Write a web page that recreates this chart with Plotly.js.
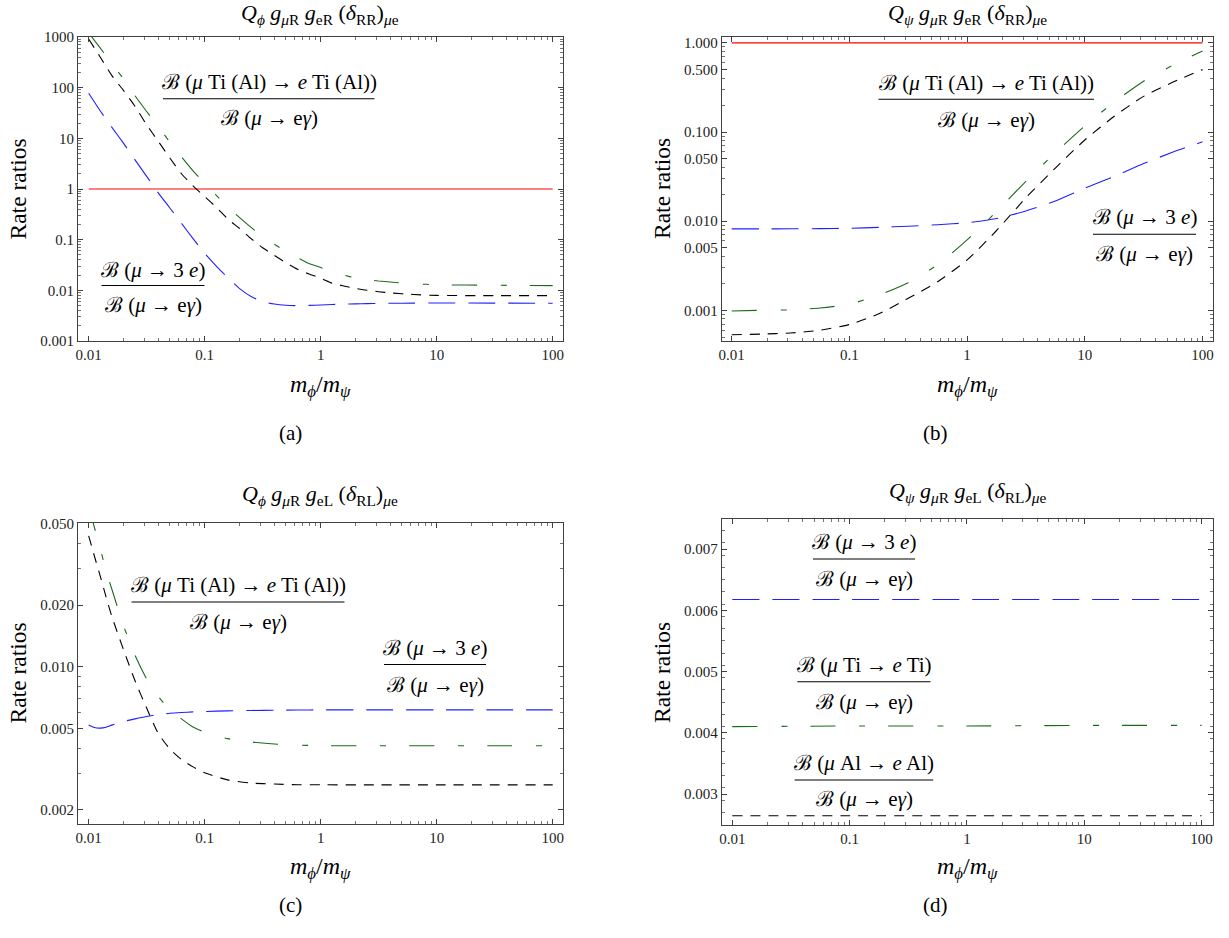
<!DOCTYPE html>
<html><head><meta charset="utf-8">
<script src="https://cdn.plot.ly/plotly-3.0.1.min.js"></script>
<style>html,body{margin:0;padding:0;background:#fff;} #chart{width:1229px;height:938px;}</style>
</head><body><div id="chart"></div>
<script>
// ---------- data ----------
// panel (a): Q_phi g_muR g_eR (delta_RR)
const xA = [0.01,0.0126,0.0158,0.02,0.0251,0.0316,0.0398,0.0501,0.0631,0.0794,0.1,0.126,0.158,0.2,0.251,0.316,0.398,0.501,0.631,0.794,1,1.26,1.58,2,2.51,3.16,3.98,6.31,10,31.6,100];
const mu3eA = [77.6,34.7,16.6,7.94,3.76,1.78,0.841,0.422,0.21,0.105,0.0537,0.0302,0.0178,0.01084,0.00759,0.0060,0.00537,0.00507,0.00499,0.00504,0.00513,0.00525,0.00535,0.00541,0.00546,0.00551,0.00555,0.0056,0.00562,0.0056,0.00556];
const muAlA = [912,398,175,87.5,42.8,18.5,8.75,4.1,2.0,1.15,0.708,0.437,0.257,0.166,0.105,0.0692,0.049,0.0351,0.026,0.021,0.0174,0.0138,0.0122,0.0109,0.0100,0.0094,0.0089,0.00828,0.00794,0.00785,0.00785];
const muTiA = [1202,603,299,148,69.2,33.9,17.0,8.47,4.33,2.29,1.30,0.75,0.442,0.272,0.175,0.115,0.0813,0.0589,0.0444,0.0339,0.0281,0.023,0.02,0.0175,0.0163,0.0153,0.0146,0.0135,0.0129,0.0126,0.0124];
// panel (b): Q_psi g_muR g_eR (delta_RR)
const xB = [0.01,0.0178,0.0316,0.0562,0.1,0.178,0.316,0.562,1,1.78,3.16,5.62,10,17.8,31.6,56.2,100];
const mu3eB = [0.00818,0.00818,0.0082,0.00824,0.00832,0.00851,0.00877,0.00912,0.0096,0.0107,0.013,0.0168,0.0234,0.0318,0.0442,0.0596,0.0776];
const muAlB = [0.000531,0.00054,0.000556,0.000596,0.000692,0.000912,0.00136,0.00209,0.00367,0.00785,0.0183,0.0394,0.0813,0.15,0.251,0.363,0.501];
const muTiB = [0.00098,0.001,0.00101,0.00106,0.00117,0.00148,0.00204,0.00324,0.00617,0.0128,0.028,0.0586,0.117,0.217,0.372,0.562,0.813];
// panel (c): Q_phi g_muR g_eL (delta_RL)
const xC = [0.01,0.0112,0.0126,0.0141,0.0158,0.02,0.0251,0.0316,0.0398,0.0501,0.0631,0.0794,0.1,0.158,0.251,0.398,0.631,1,3.16,10,31.6,100];
const mu3eC = [0.00519,0.00504,0.00501,0.00506,0.00518,0.0054,0.00556,0.00571,0.00583,0.00592,0.00597,0.00601,0.00604,0.00608,0.00611,0.00612,0.00614,0.00615,0.00615,0.00615,0.00615,0.00615];
const muAlC = [0.0435,0.0347,0.0276,0.022,0.01766,0.01208,0.00853,0.00628,0.00472,0.00396,0.00352,0.00324,0.00303,0.0028,0.0027,0.00267,0.00265,0.002648,0.002646,0.002646,0.002646,0.002646];
const muTiC = [0.0603,0.0479,0.0376,0.0295,0.024,0.0158,0.01135,0.00871,0.00716,0.00617,0.00556,0.00507,0.00479,0.00445,0.00429,0.00419,0.00414,0.00411,0.00411,0.00411,0.00411,0.00411];
// panel (d): Q_psi g_muR g_eL (delta_RL)
const xD = [0.01,0.1,1,10,100];
const mu3eD = [0.006175,0.006175,0.006175,0.006175,0.006175];
const muTiD = [0.0041,0.00411,0.00411,0.00412,0.00412];
const muAlD = [0.002646,0.002646,0.002646,0.002646,0.002646];
// reference line (ratio = 1)
const xRef = [0.01,100];
const yRef = [1,1];

// tick labels
const xTickVals = [0.01,0.1,1,10,100];
const xTickText = ['0.01','0.1','1','10','100'];
const yTickValsA = [0.001,0.01,0.1,1,10,100,1000];
const yTickTextA = ['0.001','0.01','0.1','1','10','100','1000'];
const yTickValsB = [0.001,0.005,0.01,0.05,0.1,0.5,1];
const yTickTextB = ['0.001','0.005','0.010','0.050','0.100','0.500','1.000'];
const yTickValsC = [0.002,0.005,0.01,0.02,0.05];
const yTickTextC = ['0.002','0.005','0.010','0.020','0.050'];
const yTickValsD = [0.003,0.004,0.005,0.006,0.007];
const yTickTextD = ['0.003','0.004','0.005','0.006','0.007'];

// ---------- styling ----------
const W = 1229, H = 938;
const SERIF = 'Liberation Serif';
const COL_BLUE = '#2020ff', COL_GREEN = '#1c6a1c', COL_BLACK = '#000000', COL_RED = '#ff0000';
const DASH_BLUE = '27px,13px';
const DASH_BLACK = '10px,8px';
const DASH_GREEN = '25px,24px,6px,23px';

function logMinor(lo, hi) {
  const out = [];
  for (let e = lo; e <= hi; e++) {
    for (let m = 2; m <= 9; m++) out.push(Number((m * Math.pow(10, e)).toPrecision(3)));
  }
  return out;
}
function skipMajors(vals, majors) {
  return vals.filter(v => !majors.some(m => Math.abs(v - m) / m < 1e-6));
}
const xMinor = logMinor(-2, 1);
const linMinorD = [];
for (let v = 25; v <= 74; v += 2) linMinorD.push(v / 10000);

function axis(domain, range, type, tickvals, ticktext, minorvals, anchor) {
  return {
    domain, range, type, anchor,
    showline: true, linecolor: '#404040', linewidth: 1, mirror: 'ticks',
    ticks: 'inside', ticklen: 5, tickwidth: 1, tickcolor: '#404040',
    showgrid: false, zeroline: false,
    tickmode: 'array', tickvals, ticktext,
    tickfont: {family: SERIF, size: 15, color: '#222'},
    minor: {ticks: 'inside', ticklen: 3, tickwidth: 0.8, tickcolor: '#505050',
            tickmode: 'array', tickvals: minorvals, showgrid: false},
    fixedrange: true
  };
}

function line(x, y, color, dash, xa, ya, w) {
  return {x, y, type: 'scatter', mode: 'lines', xaxis: xa, yaxis: ya,
          line: {color, width: w || 1.1, dash, shape: 'spline', smoothing: 0.6},
          hoverinfo: 'skip', showlegend: false};
}

const data = [
  line(xRef, yRef, COL_RED, 'solid', 'x', 'y', 1.2),
  line(xA, mu3eA, COL_BLUE, DASH_BLUE, 'x', 'y'),
  line(xA, muTiA, COL_GREEN, DASH_GREEN, 'x', 'y'),
  line(xA, muAlA, COL_BLACK, DASH_BLACK, 'x', 'y'),

  line(xRef, yRef, COL_RED, 'solid', 'x2', 'y2', 1.2),
  line(xB, mu3eB, COL_BLUE, DASH_BLUE, 'x2', 'y2'),
  line(xB, muTiB, COL_GREEN, DASH_GREEN, 'x2', 'y2'),
  line(xB, muAlB, COL_BLACK, DASH_BLACK, 'x2', 'y2'),

  line(xC, mu3eC, COL_BLUE, DASH_BLUE, 'x3', 'y3'),
  line(xC, muTiC, COL_GREEN, DASH_GREEN, 'x3', 'y3'),
  line(xC, muAlC, COL_BLACK, DASH_BLACK, 'x3', 'y3'),

  line(xD, mu3eD, COL_BLUE, DASH_BLUE, 'x4', 'y4'),
  line(xD, muTiD, COL_GREEN, DASH_GREEN, 'x4', 'y4'),
  line(xD, muAlD, COL_BLACK, DASH_BLACK, 'x4', 'y4')
];

// frames in pixel space
const fx = (px) => px / W;
const fy = (py) => 1 - py / H;
const domXL = [fx(78), fx(563)], domXR = [fx(721.7), fx(1212.5)];
const domYT = [fy(341), fy(37)];
const domYC = [fy(824.3), fy(522.7)], domYD = [fy(825), fy(519)];

const layout = {
  width: W, height: H, margin: {l: 0, r: 0, t: 0, b: 0},
  paper_bgcolor: '#fff', plot_bgcolor: '#fff', showlegend: false,
  font: {family: SERIF, color: '#000'},
  xaxis:  axis(domXL, [-2.092, 2.089], 'log', xTickVals, xTickText, xMinor, 'y'),
  yaxis:  axis(domYT, [-3, 3], 'log', yTickValsA, yTickTextA, logMinor(-3, 2), 'x'),
  xaxis2: axis(domXR, [-2.085, 2.085], 'log', xTickVals, xTickText, xMinor, 'y2'),
  yaxis2: axis(domYT, [-3.345, 0.066], 'log', yTickValsB, yTickTextB, skipMajors(logMinor(-4, 0), yTickValsB).filter(v => v >= 0.00045 && v <= 1.2), 'x2'),
  xaxis3: axis(domXL, [-2.092, 2.089], 'log', xTickVals, xTickText, xMinor, 'y3'),
  yaxis3: axis(domYC, [-2.770, -1.297], 'log', yTickValsC, yTickTextC, skipMajors(logMinor(-3, -2), yTickValsC).filter(v => v >= 0.0017 && v <= 0.05), 'x3'),
  xaxis4: axis(domXR, [-2.09, 2.093], 'log', xTickVals, xTickText, xMinor, 'y4'),
  yaxis4: axis(domYD, [0.002494, 0.00749], 'linear', yTickValsD, yTickTextD, skipMajors(linMinorD, yTickValsD), 'x4'),
  annotations: [], shapes: []
};

function txt(text, x, y, size, extra) {
  return Object.assign({text, x: fx(x), y: fy(y), xref: 'paper', yref: 'paper', showarrow: false,
    xanchor: 'center', yanchor: 'middle', font: {family: SERIF, size, color: '#000'}}, extra || {});
}
function frac(num, den, cx, ny, by, dy, x0, x1) {
  layout.annotations.push(txt(num, cx, ny, 21));
  layout.annotations.push(txt(den, cx, dy, 21));
  layout.shapes.push({type: 'line', xref: 'paper', yref: 'paper', x0: fx(x0), x1: fx(x1), y0: fy(by), y1: fy(by),
    line: {color: '#000', width: 1.1}});
}

const DEN = 'ℬ (<i>μ</i> → e<i>γ</i>)';
const NUM_TIAL = 'ℬ (<i>μ</i> Ti (Al) → <i>e</i> Ti (Al))';
const NUM_3E = 'ℬ (<i>μ</i> → 3 <i>e</i>)';
frac(NUM_TIAL, DEN, 269, 82, 98.8, 118.5, 163, 374.5);
frac(NUM_3E, DEN, 153, 270, 285.5, 305, 101.5, 204.5);
frac(NUM_TIAL, DEN, 987, 83, 99.3, 120, 878.5, 1094);
frac(NUM_3E, DEN, 1144.5, 216.7, 234.2, 253.5, 1093, 1196);
frac(NUM_TIAL, DEN, 238, 584.5, 602, 621.5, 131.5, 344.5);
frac(NUM_3E, DEN, 435, 648, 664.5, 684.5, 384, 486);
frac(NUM_3E, DEN, 864, 542.3, 559, 579, 813, 915);
frac('ℬ (<i>μ</i> Ti → <i>e</i> Ti)', DEN, 864, 665, 681.7, 701.7, 797.3, 930.5);
frac('ℬ (<i>μ</i> Al → <i>e</i> Al)', DEN, 864, 762.7, 780, 799.3, 794.6, 933.2);

// panel titles
const T_A = '<i>Q</i><sub><i>ϕ</i></sub> <i>g</i><sub><i>μ</i>R</sub> <i>g</i><sub>eR</sub> (<i>δ</i><sub>RR</sub>)<sub><i>μ</i>e</sub>';
const T_B = '<i>Q</i><sub><i>ψ</i></sub> <i>g</i><sub><i>μ</i>R</sub> <i>g</i><sub>eR</sub> (<i>δ</i><sub>RR</sub>)<sub><i>μ</i>e</sub>';
const T_C = '<i>Q</i><sub><i>ϕ</i></sub> <i>g</i><sub><i>μ</i>R</sub> <i>g</i><sub>eL</sub> (<i>δ</i><sub>RL</sub>)<sub><i>μ</i>e</sub>';
const T_D = '<i>Q</i><sub><i>ψ</i></sub> <i>g</i><sub><i>μ</i>R</sub> <i>g</i><sub>eL</sub> (<i>δ</i><sub>RL</sub>)<sub><i>μ</i>e</sub>';
layout.annotations.push(txt(T_A, 320.5, 14, 22));
layout.annotations.push(txt(T_B, 967, 14, 22));
layout.annotations.push(txt(T_C, 320.5, 495, 22));
layout.annotations.push(txt(T_D, 967, 492, 22));

// axis titles
const XT = '<i>m</i><sub><i>ϕ</i></sub>/<i>m</i><sub><i>ψ</i></sub>';
layout.annotations.push(txt(XT, 320.5, 386, 24));
layout.annotations.push(txt(XT, 967, 386, 24));
layout.annotations.push(txt(XT, 320.5, 868, 24));
layout.annotations.push(txt(XT, 967, 868, 24));
const YT = 'Rate ratios';
layout.annotations.push(txt(YT, 17.5, 189, 23.5, {textangle: -90}));
layout.annotations.push(txt(YT, 662, 189, 23.5, {textangle: -90}));
layout.annotations.push(txt(YT, 17.5, 673, 23.5, {textangle: -90}));
layout.annotations.push(txt(YT, 662, 673, 23.5, {textangle: -90}));

// sub-figure labels
layout.annotations.push(txt('(a)', 290, 433, 21));
layout.annotations.push(txt('(b)', 935, 433, 21));
layout.annotations.push(txt('(c)', 290, 905, 21));
layout.annotations.push(txt('(d)', 935, 905, 21));

Plotly.newPlot('chart', data, layout, {staticPlot: true, displayModeBar: false});
</script>
</body></html>
